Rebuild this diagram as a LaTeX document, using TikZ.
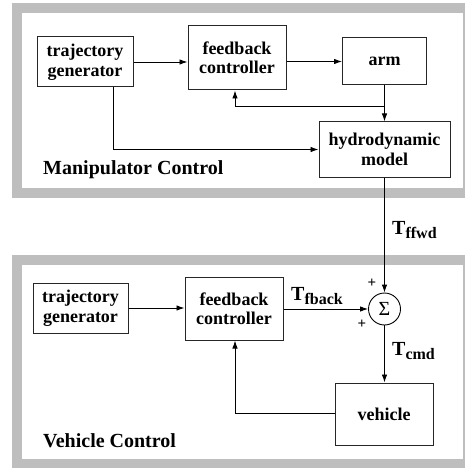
\documentclass[tikz,border=0pt]{standalone}
\usepackage{fontspec}
\setmainfont{Liberation Serif}
\usetikzlibrary{arrows.meta}
\definecolor{bandgray}{RGB}{190,190,190}
\tikzset{
  blk/.style={draw=black!85,line width=1pt,fill=white,align=center,inner sep=0pt,
    font=\fontsize{18}{19.5}\selectfont\bfseries},
  conn/.style={line width=0.9pt,-{Latex[length=8pt,width=5.5pt]}},
  line/.style={line width=0.9pt},
  title/.style={anchor=west,inner sep=0pt,font=\fontsize{20}{22}\selectfont\bfseries},
  sig/.style={anchor=west,inner sep=0pt,font=\fontsize{20}{22}\selectfont\bfseries},
  plus/.style={inner sep=0pt,font=\fontsize{15}{15}\selectfont\bfseries}
}
\newcommand{\sgl}[1]{T\raisebox{-4.5pt}{\fontsize{16}{16}\selectfont #1}}
\begin{document}
\begin{tikzpicture}[x=1pt,y=-1pt]
\useasboundingbox (0,0) rectangle (464,468);
% panels
\fill[bandgray] (12,3) rectangle (470,198);
\fill[white] (22,13) rectangle (463,188);
\fill[bandgray] (12,255) rectangle (470,475);
\fill[white] (22,265) rectangle (463,459);
% top nodes
\node[blk,minimum width=96pt,minimum height=50pt] (tg1) at (85,62) {trajectory\\generator};
\node[blk,minimum width=98pt,minimum height=64pt] (fb1) at (237,58) {feedback\\controller};
\node[blk,minimum width=84pt,minimum height=47pt] (arm) at (384.5,61.5) {arm};
\node[blk,minimum width=131pt,minimum height=55pt] (hyd) at (384.5,149.5) {hydrodynamic\\model};
\node[title] (mc) at (43,170) {Manipulator Control};
% bottom nodes
\node[blk,minimum width=95pt,minimum height=50pt] (tg2) at (80.5,308) {trajectory\\generator};
\node[blk,minimum width=98pt,minimum height=63pt] (fb2) at (234,308.5) {feedback\\controller};
\node[draw=black,line width=0.9pt,circle,minimum size=32pt,inner sep=0pt,font=\fontsize{20}{20}\selectfont] (sum) at (384.5,309) {Σ};
\node[blk,minimum width=98pt,minimum height=62pt] (veh) at (384,414) {vehicle};
\node[title] (vc) at (43,441) {Vehicle Control};
% labels
\node[sig] (lffwd) at (392,230) {\sgl{ffwd}};
\node[sig] (lfback) at (291,296) {\sgl{fback}};
\node[sig] (lcmd) at (392,351) {\sgl{cmd}};
\node[plus] (p1) at (372,283) {+};
\node[plus] (p2) at (362,324) {+};
% top connectors
\draw[conn] (tg1.east) -- (tg1.east -| fb1.west);
\draw[conn] (fb1.east |- arm.west) -- (arm.west);
\draw[conn] (arm.south) -- (hyd.north);
\coordinate (br) at (arm.south |- 0,106);
\coordinate (brl) at (235,106);
\draw[conn] (br) -- (brl) -- (brl |- fb1.south);
\coordinate (tgd) at (113,87);
\draw[conn] (tgd) -- (tgd |- hyd.west) -- (hyd.west);
% link between panels
\draw[conn] (hyd.south) -- (sum.north);
% bottom connectors
\draw[conn] (tg2.east) -- (fb2.west |- tg2.east);
\draw[conn] (fb2.east |- sum.west) -- (sum.west);
\draw[conn] (sum.south) -- (sum.south |- veh.north);
\coordinate (vl) at (235,413);
\draw[line] (veh.west |- vl) -- (vl);
\draw[conn] (vl) -- (vl |- fb2.south);
\end{tikzpicture}
\end{document}
